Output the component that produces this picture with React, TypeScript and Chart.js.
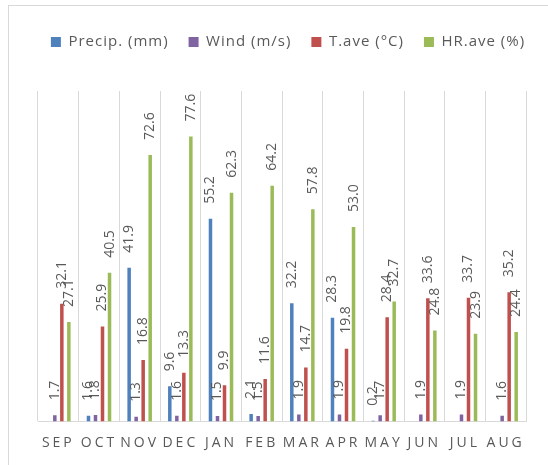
import React, { useEffect, useRef } from "react";
import { Chart, registerables } from "chart.js";

Chart.register(...registerables);

const categories = ["SEP", "OCT", "NOV", "DEC", "JAN", "FEB", "MAR", "APR", "MAY", "JUN", "JUL", "AUG"];
const seriesNames = ["Precip. (mm)", "Wind (m/s)", "T.ave (°C)", "HR.ave (%)"];
const precip: (number | null)[] = [null, 1.6, 41.9, 9.6, 55.2, 2.1, 32.2, 28.3, 0.2, null, null, null];
const wind: (number | null)[] = [1.7, 1.8, 1.3, 1.6, 1.5, 1.5, 1.9, 1.9, 1.7, 1.9, 1.9, 1.6];
const tAve: (number | null)[] = [32.1, 25.9, 16.8, 13.3, 9.9, 11.6, 14.7, 19.8, 28.4, 33.6, 33.7, 35.2];
const hrAve: (number | null)[] = [27.1, 40.5, 72.6, 77.6, 62.3, 64.2, 57.8, 53.0, 32.7, 24.8, 23.9, 24.4];
const yMin = 0;
const yMax = 90;

const colors = ["#4f81bd", "#8064a2", "#c0504d", "#9bbb59"];
const FONT = "'Open Sans'";
const TEXT = "#595959";
const LEGEND_SPACING = "1px";

const valueLabels = {
  id: "valueLabels",
  afterDatasetsDraw(chart: any) {
    const ctx = chart.ctx;
    ctx.save();
    ctx.letterSpacing = "0px";
    ctx.font = `14px ${FONT}`;
    ctx.fillStyle = TEXT;
    ctx.textAlign = "left";
    ctx.textBaseline = "middle";
    chart.data.datasets.forEach((ds: any, di: number) => {
      const meta = chart.getDatasetMeta(di);
      meta.data.forEach((bar: any, i: number) => {
        const v = ds.data[i];
        if (v === null || v === undefined) return;
        ctx.save();
        ctx.translate(bar.x, bar.y - 15);
        ctx.rotate(-Math.PI / 2);
        ctx.fillText(Number(v).toFixed(1), 0, 0);
        ctx.restore();
      });
    });
    ctx.restore();
  },
};

const spacedText = {
  id: "spacedText",
  beforeUpdate(chart: any) {
    chart.ctx.letterSpacing = LEGEND_SPACING;
  },
  afterLayout(chart: any) {
    const lg = chart.legend;
    if (lg) {
      lg.left += 14;
      lg.right += 14;
    }
  },
  beforeDraw(chart: any) {
    chart.ctx.letterSpacing = LEGEND_SPACING;
    const xs: any = chart.scales.x;
    if (xs && !xs.__spaced) {
      const orig = xs.drawLabels.bind(xs);
      xs.drawLabels = (area: any) => {
        const c = chart.ctx;
        c.save();
        c.letterSpacing = "3px";
        orig(area);
        c.restore();
      };
      xs.__spaced = true;
    }
  },
};

export default function App() {
  const ref = useRef<HTMLCanvasElement | null>(null);
  useEffect(() => {
    if (!ref.current) return;
    const chart = new Chart(ref.current, {
      type: "bar",
      data: {
        labels: categories,
        datasets: [precip, wind, tAve, hrAve].map((d, i) => ({
          label: seriesNames[i],
          data: d,
          backgroundColor: colors[i],
          borderWidth: 0,
          categoryPercentage: 0.69,
          barPercentage: 0.5,
        })),
      },
      options: {
        responsive: false,
        animation: false,
        layout: { padding: { left: 0, right: 0, top: 14.5, bottom: 0 } },
        plugins: {
          legend: {
            position: "top",
            labels: {
              boxWidth: 10,
              boxHeight: 10,
              padding: 20,
              color: TEXT,
              font: { family: FONT, size: 15 },
            },
          },
          title: {
            display: true,
            text: "",
            position: "top",
            weight: 500,
            font: { size: 10, lineHeight: 1 },
            padding: { top: 0, bottom: 21.5 },
          } as any,
          tooltip: { enabled: false },
        },
        scales: {
          x: {
            grid: { color: "#d9d9d9", lineWidth: 1, drawTicks: false, offset: true },
            border: { color: "#d9d9d9" },
            ticks: {
              color: TEXT,
              font: { family: FONT, size: 14, lineHeight: 1.1 },
              padding: 14,
              maxRotation: 0,
              autoSkip: false,
            },
          },
          y: {
            display: true,
            position: "left",
            min: yMin,
            max: yMax,
            ticks: { display: false },
            grid: { display: false },
            border: { display: false },
            afterFit: (s: any) => {
              s.width = 38;
            },
          },
          yRight: {
            type: "linear",
            display: true,
            position: "right",
            min: yMin,
            max: yMax,
            ticks: { display: false },
            grid: { display: false },
            border: { display: false },
            afterFit: (s: any) => {
              s.width = 22;
            },
          },
        },
      },
      plugins: [valueLabels, spacedText],
    });
    return () => chart.destroy();
  }, []);
  return (
    <div style={{ position: "fixed", left: 0, top: 0, width: 548, height: 465, overflow: "hidden", background: "#fff" }}>
      <div
        style={{
          position: "absolute",
          left: 8,
          top: 5,
          width: 600,
          height: 520,
          border: "1px solid #d9d9d9",
          boxSizing: "border-box",
        }}
      />
      <canvas ref={ref} width={548} height={465} style={{ position: "absolute", left: 0, top: 0 }} />
    </div>
  );
}
